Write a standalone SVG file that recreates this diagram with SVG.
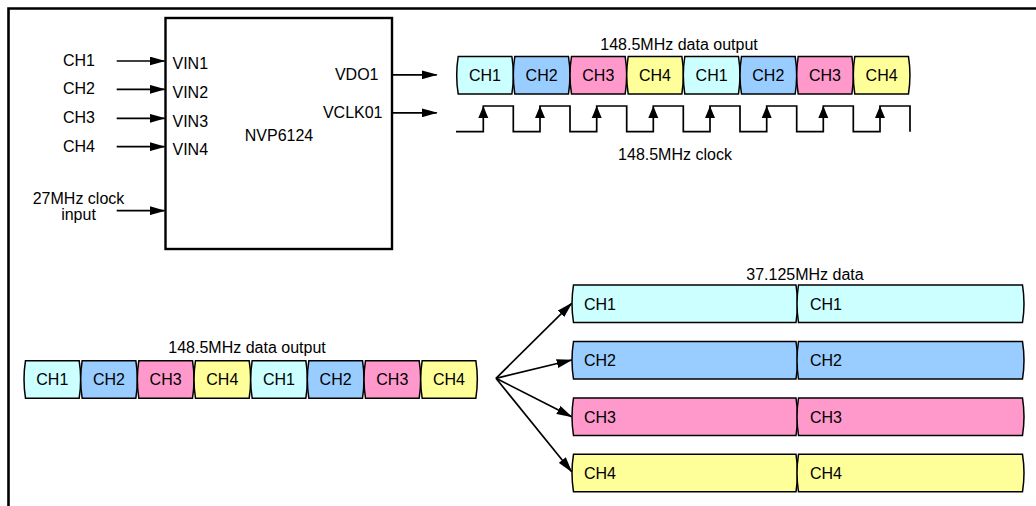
<svg xmlns="http://www.w3.org/2000/svg" xmlns:xlink="http://www.w3.org/1999/xlink" width="1036" height="506" viewBox="0 0 1036 506">
<style>
text{font-family:"Liberation Sans",Arial,sans-serif;font-size:16px;fill:#000}
.m{text-anchor:middle}
.e{text-anchor:end}
.cell{stroke:#000;stroke-width:1.5}
.c1{fill:#CCFFFF}.c2{fill:#99CCFF}.c3{fill:#FF99CC}.c4{fill:#FFFF99}
.ln{fill:none;stroke:#000;stroke-width:1.7}
</style>
<defs>
<marker id="ah" viewBox="0 0 16 9" refX="15" refY="4.5" markerWidth="16" markerHeight="9" markerUnits="userSpaceOnUse" orient="auto">
<path d="M0,0 L16,4.5 L0,9 Z" fill="#000"/>
</marker>
<path id="cs" d="M1.5,0 H55.17 Q58.17,18.75 55.17,37.5 H1.5 Q-1.5,18.75 1.5,0 Z"/>
<path id="cw" d="M1.5,0 H224 Q227,18.75 224,37.5 H1.5 Q-1.5,18.75 1.5,0 Z"/>
<path id="cw2" d="M1.5,0 H225.5 Q228.5,18.75 225.5,37.5 H1.5 Q-1.5,18.75 1.5,0 Z"/>
</defs>
<rect width="1036" height="506" fill="#fff"/>
<path d="M8.5,506 V8.5 H1036" fill="none" stroke="#000" stroke-width="2.6"/>

<g id="nvp6124">
<rect x="165.5" y="18" width="226.5" height="231" fill="#fff" stroke="#000" stroke-width="2.4"/>
<text class="m" x="279" y="140.7">NVP6124</text>
<text x="172.5" y="69.3">VIN1</text>
<text x="172.5" y="97.6">VIN2</text>
<text x="172.5" y="126.6">VIN3</text>
<text x="172.5" y="155.2">VIN4</text>
<text class="e" x="378.5" y="80">VDO1</text>
<text class="e" x="382.5" y="118.3">VCLK01</text>
</g>

<g id="inputs">
<text class="m" x="79" y="65.7">CH1</text>
<text class="m" x="79" y="94.2">CH2</text>
<text class="m" x="79" y="123.2">CH3</text>
<text class="m" x="79" y="151.6">CH4</text>
<text class="m" x="78.5" y="204">27MHz clock</text>
<text class="m" x="78.5" y="219.8">input</text>
</g>

<g id="connectors">
<line class="ln" x1="116.7" y1="61" x2="164.5" y2="61" marker-end="url(#ah)"/>
<line class="ln" x1="116.7" y1="89.3" x2="164.5" y2="89.3" marker-end="url(#ah)"/>
<line class="ln" x1="116.7" y1="118.3" x2="164.5" y2="118.3" marker-end="url(#ah)"/>
<line class="ln" x1="116.7" y1="146.7" x2="164.5" y2="146.7" marker-end="url(#ah)"/>
<line class="ln" x1="116.7" y1="210.7" x2="164.5" y2="210.7" marker-end="url(#ah)"/>
<line class="ln" x1="392" y1="74.8" x2="436.7" y2="74.8" marker-end="url(#ah)"/>
<line class="ln" x1="392" y1="112.8" x2="436.7" y2="112.8" marker-end="url(#ah)"/>
<line class="ln" x1="496" y1="378.3" x2="571.7" y2="303.3" marker-end="url(#ah)"/>
<line class="ln" x1="496" y1="378.3" x2="571.7" y2="360" marker-end="url(#ah)"/>
<line class="ln" x1="496" y1="378.3" x2="571.7" y2="416.7" marker-end="url(#ah)"/>
<line class="ln" x1="496" y1="378.3" x2="571.7" y2="471.7" marker-end="url(#ah)"/>
</g>

<g id="top-data">
<text class="m" x="679" y="50">148.5MHz data output</text>
<g transform="translate(456.7,56.5)"><use xlink:href="#cs" class="cell c1"/><text class="m" x="28.3" y="24.3">CH1</text></g>
<g transform="translate(513.3,56.5)"><use xlink:href="#cs" class="cell c2"/><text class="m" x="28.3" y="24.3">CH2</text></g>
<g transform="translate(570,56.5)"><use xlink:href="#cs" class="cell c3"/><text class="m" x="28.3" y="24.3">CH3</text></g>
<g transform="translate(626.7,56.5)"><use xlink:href="#cs" class="cell c4"/><text class="m" x="28.3" y="24.3">CH4</text></g>
<g transform="translate(683.3,56.5)"><use xlink:href="#cs" class="cell c1"/><text class="m" x="28.3" y="24.3">CH1</text></g>
<g transform="translate(740,56.5)"><use xlink:href="#cs" class="cell c2"/><text class="m" x="28.3" y="24.3">CH2</text></g>
<g transform="translate(796.7,56.5)"><use xlink:href="#cs" class="cell c3"/><text class="m" x="28.3" y="24.3">CH3</text></g>
<g transform="translate(853.3,56.5)"><use xlink:href="#cs" class="cell c4"/><text class="m" x="28.3" y="24.3">CH4</text></g>
</g>

<g id="clock">
<path class="ln" d="M456,131.7 H483.3 V106 H513.3 V131.7 H540 V106 H570 V131.7 H596.7 V106 H626.7 V131.7 H653.3 V106 H683.3 V131.7 H710 V106 H740 V131.7 H766.7 V106 H796.7 V131.7 H823.3 V106 H853.3 V131.7 H880 V106 H910 V131.7"/>
<g fill="#000">
<path d="M483.3,106 L478.3,118 L488.3,118 Z"/>
<path d="M540,106 L535,118 L545,118 Z"/>
<path d="M596.7,106 L591.7,118 L601.7,118 Z"/>
<path d="M653.3,106 L648.3,118 L658.3,118 Z"/>
<path d="M710,106 L705,118 L715,118 Z"/>
<path d="M766.7,106 L761.7,118 L771.7,118 Z"/>
<path d="M823.3,106 L818.3,118 L828.3,118 Z"/>
<path d="M880,106 L875,118 L885,118 Z"/>
</g>
<text class="m" x="675" y="160">148.5MHz clock</text>
</g>

<g id="bottom-data">
<text class="m" x="247" y="352.7">148.5MHz data output</text>
<g transform="translate(24,360.7)"><use xlink:href="#cs" class="cell c1"/><text class="m" x="28.3" y="24.5">CH1</text></g>
<g transform="translate(80.67,360.7)"><use xlink:href="#cs" class="cell c2"/><text class="m" x="28.3" y="24.5">CH2</text></g>
<g transform="translate(137.33,360.7)"><use xlink:href="#cs" class="cell c3"/><text class="m" x="28.3" y="24.5">CH3</text></g>
<g transform="translate(194,360.7)"><use xlink:href="#cs" class="cell c4"/><text class="m" x="28.3" y="24.5">CH4</text></g>
<g transform="translate(250.67,360.7)"><use xlink:href="#cs" class="cell c1"/><text class="m" x="28.3" y="24.5">CH1</text></g>
<g transform="translate(307.33,360.7)"><use xlink:href="#cs" class="cell c2"/><text class="m" x="28.3" y="24.5">CH2</text></g>
<g transform="translate(364,360.7)"><use xlink:href="#cs" class="cell c3"/><text class="m" x="28.3" y="24.5">CH3</text></g>
<g transform="translate(420.67,360.7)"><use xlink:href="#cs" class="cell c4"/><text class="m" x="28.3" y="24.5">CH4</text></g>
</g>

<g id="split-data">
<text class="m" x="805" y="279.5">37.125MHz data</text>
<g id="row-ch1">
<g transform="translate(572,285)"><use xlink:href="#cw" class="cell c1"/><text x="12" y="24.5">CH1</text></g>
<g transform="translate(797,285)"><use xlink:href="#cw2" class="cell c1"/><text x="13" y="24.5">CH1</text></g>
</g>
<g id="row-ch2">
<g transform="translate(572,341.5)"><use xlink:href="#cw" class="cell c2"/><text x="12" y="24.5">CH2</text></g>
<g transform="translate(797,341.5)"><use xlink:href="#cw2" class="cell c2"/><text x="13" y="24.5">CH2</text></g>
</g>
<g id="row-ch3">
<g transform="translate(572,398)"><use xlink:href="#cw" class="cell c3"/><text x="12" y="24.5">CH3</text></g>
<g transform="translate(797,398)"><use xlink:href="#cw2" class="cell c3"/><text x="13" y="24.5">CH3</text></g>
</g>
<g id="row-ch4">
<g transform="translate(572,454.3)"><use xlink:href="#cw" class="cell c4"/><text x="12" y="24.5">CH4</text></g>
<g transform="translate(797,454.3)"><use xlink:href="#cw2" class="cell c4"/><text x="13" y="24.5">CH4</text></g>
</g>
</g>
</svg>
